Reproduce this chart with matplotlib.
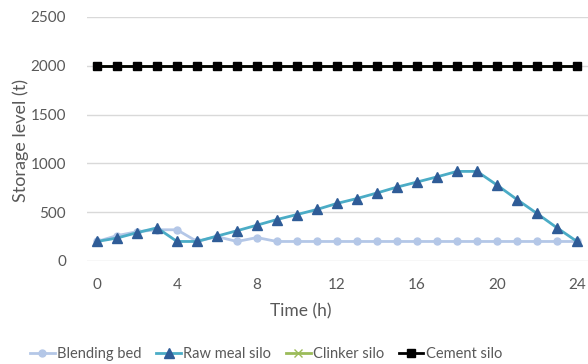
import matplotlib
matplotlib.use("Agg")
import matplotlib.pyplot as plt

hours = list(range(25))
blending_bed = [200, 260, 300, 320, 320, 200, 250, 200, 240, 200, 200, 200, 200,
                200, 200, 200, 200, 200, 200, 200, 200, 200, 200, 200, 200]
raw_meal_silo = [200, 235, 290, 340, 200, 200, 255, 310, 367, 425, 476, 528, 590,
                 640, 697, 757, 809, 862, 918, 918, 778, 630, 487, 340, 200]
clinker_silo = [2000] * 25
cement_silo = [2000] * 25
x_ticks = [0, 4, 8, 12, 16, 20, 24]
y_ticks = [0, 500, 1000, 1500, 2000, 2500]

plt.rcParams['font.family'] = ['Lato', 'DejaVu Sans']
text_color = '#595959'

W, H = 588, 364
fig = plt.figure(figsize=(W / 100, H / 100), dpi=100)
ax = fig.add_axes([87 / W, 1 - 261 / H, 501 / W, 244 / H])

ax.plot(hours, blending_bed, color='#B4C7E7', lw=2, marker='o', ms=5,
        mfc='#B4C7E7', mec='#B4C7E7', label='Blending bed', zorder=3)
ax.plot(hours, raw_meal_silo, color='#4BACC6', lw=2, marker='^', ms=7,
        mfc='#2F5C97', mec='#2F5C97', label='Raw meal silo', zorder=4)
ax.plot(hours, clinker_silo, color='#9BBB59', lw=2, marker='x', ms=6,
        mec='#9BBB59', label='Clinker silo', zorder=5)
ax.plot(hours, cement_silo, color='#000000', lw=2, marker='s', ms=5.5,
        mfc='#000000', mec='#000000', label='Cement silo', zorder=6)

ax.set_xlim(-0.5, 24.55)
ax.set_ylim(0, 2500)
ax.set_xticks(x_ticks)
ax.set_yticks(y_ticks)
ax.grid(axis='y', color='#D9D9D9', lw=1)
ax.set_axisbelow(True)
for s in ax.spines.values():
    s.set_visible(False)
ax.tick_params(length=0, labelsize=11, colors=text_color, pad=12)
ax.tick_params(axis='y', pad=15)

fig.text(301 / W, 1 - 311 / H, 'Time (h)', fontsize=12.5, color=text_color,
         ha='center', va='center')
fig.text(21 / W, 1 - 140 / H, 'Storage level (t)', fontsize=13, color=text_color,
         ha='center', va='center', rotation=90)

fig.legend(loc='center', bbox_to_anchor=(266 / W, 1 - 354 / H), ncol=4, frameon=False,
           fontsize=10.5, labelcolor=text_color, handlelength=1.7, columnspacing=1.0,
           handletextpad=0.15, borderpad=0)

fig.savefig('out.png', dpi=100)
